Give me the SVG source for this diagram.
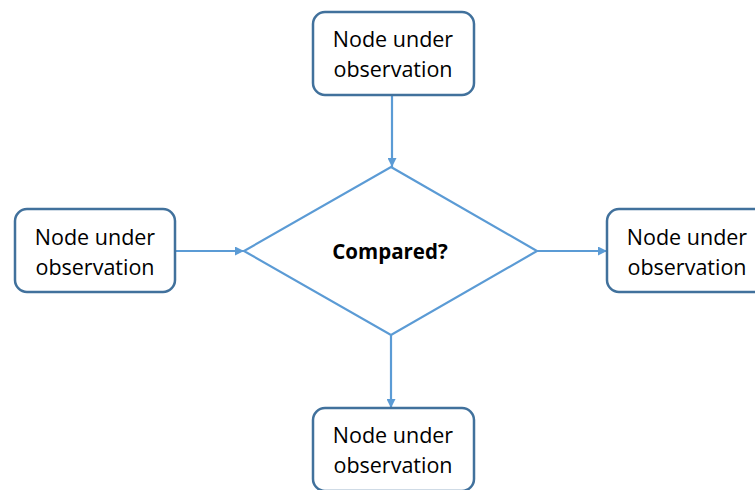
<svg xmlns="http://www.w3.org/2000/svg" width="755" height="490" viewBox="0 0 755 490">
  <style>
    .box { fill: #ffffff; stroke: #41719c; stroke-width: 2.5; }
    .label { font-family: "Open Sans", "Liberation Sans", sans-serif; font-size: 21.5px; fill: #000000; text-anchor: middle; }
    .decision { fill: #ffffff; stroke: #5b9bd5; stroke-width: 2.2; }
    .decision-label { font-family: "Open Sans", "Liberation Sans", sans-serif; font-size: 20.5px; font-weight: bold; fill: #000000; text-anchor: middle; }
    .link { fill: none; stroke: #5b9bd5; stroke-width: 2.2; marker-end: url(#arrow); }
  </style>
  <defs>
    <marker id="arrow" viewBox="0 0 10 10" refX="10" refY="5" markerWidth="11" markerHeight="9" markerUnits="userSpaceOnUse" orient="auto">
      <path d="M0,0 L10,5 L0,10 z" fill="#5b9bd5"/>
    </marker>
  </defs>
  <rect width="755" height="490" fill="#ffffff"/>

  <g id="connectors">
    <line class="link" x1="392" y1="95" x2="392" y2="167"/>
    <line class="link" x1="175" y1="251" x2="244" y2="251"/>
    <line class="link" x1="537" y1="251" x2="607" y2="251"/>
    <line class="link" x1="391" y1="335" x2="391" y2="408"/>
  </g>

  <g id="decision">
    <polygon class="decision" points="391,167 537,251 391,335 244,251"/>
    <text class="decision-label" x="390" y="259">Compared?</text>
  </g>

  <g id="node-top">
    <rect class="box" x="313" y="12" width="161" height="83" rx="12"/>
    <text class="label" x="393" y="47">Node under</text>
    <text class="label" x="393" y="77">observation</text>
  </g>

  <g id="node-left">
    <rect class="box" x="15" y="209" width="160" height="83" rx="12"/>
    <text class="label" x="95" y="245">Node under</text>
    <text class="label" x="95" y="275">observation</text>
  </g>

  <g id="node-right">
    <rect class="box" x="607" y="209" width="160" height="83" rx="12"/>
    <text class="label" x="687" y="245">Node under</text>
    <text class="label" x="687" y="275">observation</text>
  </g>

  <g id="node-bottom">
    <rect class="box" x="313" y="408" width="161" height="83" rx="12"/>
    <text class="label" x="393" y="443">Node under</text>
    <text class="label" x="393" y="473">observation</text>
  </g>
</svg>
